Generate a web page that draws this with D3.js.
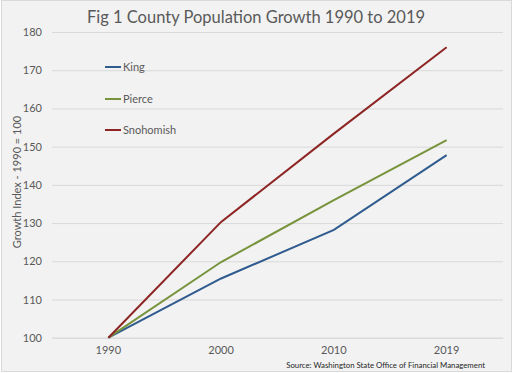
<!DOCTYPE html>
<html><head><meta charset="utf-8">
<script src="https://cdn.jsdelivr.net/npm/d3@7"></script>
<style>
html,body{margin:0;padding:0;background:#fff;}
svg{display:block;font-family:Lato,"Open Sans",sans-serif;}
</style></head>
<body>
<svg id="c" width="514" height="373"></svg>
<script>
const years = ["1990","2000","2010","2019"];
const king = [100, 115.5, 128.2, 147.8];
const pierce = [100, 119.8, 136.0, 151.7];
const snohomish = [100, 130.3, 153.4, 176.0];
const seriesNames = ["King","Pierce","Snohomish"];
const seriesColors = ["#2f5b8e","#77933c","#8e2525"];
const yTicks = [100,110,120,130,140,150,160,170,180];
const series = [king, pierce, snohomish];

const svg = d3.select("#c");
svg.append("rect").attr("x",1.5).attr("y",0.5).attr("width",510).attr("height",371)
  .attr("fill","#f2f2f2").attr("stroke","#d9d9d9");

const x = d3.scaleBand().domain(years).range([52,503]);
const y = d3.scaleLinear().domain([100,180]).range([337.7,32]);

svg.append("text").attr("x",256).attr("y",23).attr("text-anchor","middle")
  .attr("font-size",16.5).attr("fill","#595959").text("Fig 1 County Population Growth 1990 to 2019");

const ya = svg.append("g").attr("transform","translate(52,0)")
  .call(d3.axisLeft(y).tickValues(yTicks).tickSize(-451).tickPadding(10));
ya.select(".domain").remove();
ya.selectAll("line").attr("stroke","#d9d9d9");
ya.selectAll("text").attr("font-size",11).attr("fill","#595959").attr("font-family","Lato,sans-serif");

const xa = svg.append("g").attr("transform","translate(0,337.7)")
  .call(d3.axisBottom(x).tickSize(0).tickPadding(9));
xa.select(".domain").attr("stroke","#d9d9d9");
xa.selectAll("text").attr("font-size",11).attr("fill","#595959").attr("font-family","Lato,sans-serif");

svg.append("text").attr("transform","translate(21,182) rotate(-90)").attr("text-anchor","middle")
  .attr("font-size",11).attr("fill","#595959").text("Growth Index - 1990 = 100");

const line = d3.line().x((d,i)=>x(years[i])+x.bandwidth()/2).y(d=>y(d));
series.forEach((s,k)=>{
  svg.append("path").datum(s).attr("d",line).attr("fill","none")
    .attr("stroke",seriesColors[k]).attr("stroke-width",2);
});

const legY = [67, 99, 130];
seriesNames.forEach((n,k)=>{
  svg.append("line").attr("x1",105).attr("x2",121).attr("y1",legY[k]).attr("y2",legY[k])
    .attr("stroke",seriesColors[k]).attr("stroke-width",2);
  svg.append("text").attr("x",123).attr("y",legY[k]+4).attr("font-size",11)
    .attr("fill","#595959").text(n);
});

svg.append("text").attr("x",485).attr("y",368).attr("text-anchor","end")
  .attr("font-size",7.8).attr("fill","#262626").text("Source: Washington State Office of Financial Management");
</script>
</body></html>
